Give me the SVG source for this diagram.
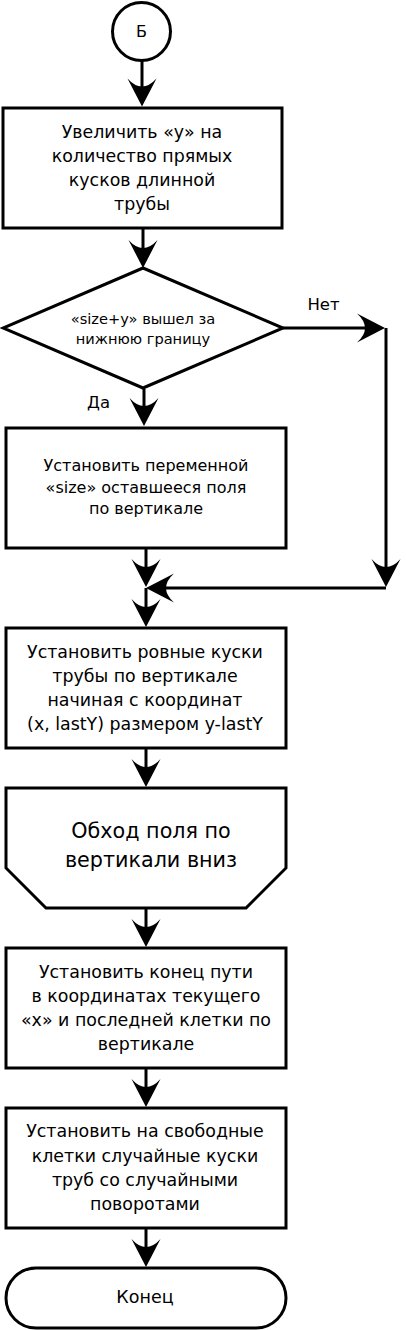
<svg xmlns="http://www.w3.org/2000/svg" width="406" height="1330" viewBox="0 0 406 1330">
<style>
.sh{fill:#fff;stroke:#000;stroke-width:3}
.cn{fill:none;stroke:#000;stroke-width:3;marker-end:url(#ah)}
text{font-family:"DejaVu Sans","Liberation Sans",sans-serif;fill:#000;text-anchor:middle}
.t{font-size:17.4px}
</style>
<defs>
<marker id="ah" markerUnits="userSpaceOnUse" orient="auto" refX="-12" refY="0" markerWidth="40" markerHeight="40" overflow="visible">
<path d="M0,0 L-28,-14.5 Q-12,0 -28,14.5 Z" fill="#000"/>
</marker>
</defs>
<rect width="406" height="1330" fill="#fff"/>
<g id="connectors">
<path class="cn" d="M142,61 V94.5"/>
<path class="cn" d="M143,228 V256"/>
<path class="cn" d="M283,328 H373"/>
<path class="cn" d="M386,328 V575"/>
<path class="cn" d="M386,588 H158"/>
<path class="cn" d="M144,389 V414"/>
<path class="cn" d="M146,548 V575"/>
<path class="cn" d="M146,588 V615"/>
<path class="cn" d="M146,748 V775"/>
<path class="cn" d="M146,908 V935"/>
<path class="cn" d="M146,1068 V1095"/>
<path class="cn" d="M146,1228 V1255"/>
</g>
<g id="start">
<circle class="sh" cx="141.5" cy="31.5" r="29"/>
<text x="141.5" y="37" font-size="16">Б</text>
</g>
<g id="box1">
<rect class="sh" x="3" y="108" width="279" height="120"/>
<text class="t"><tspan x="142" y="138">Увеличить «у» на</tspan><tspan x="142" y="162">количество прямых</tspan><tspan x="142" y="186">кусков длинной</tspan><tspan x="142" y="210">трубы</tspan></text>
</g>
<g id="decision">
<polygon class="sh" points="143,268 283,328 143,388 3,328"/>
<text font-size="14.6"><tspan x="143" y="323.5">«size+y» вышел за</tspan><tspan x="143" y="343.5">нижнюю границу</tspan></text>
</g>
<g id="labels">
<text x="323.5" y="310" font-size="16.5">Нет</text>
<text x="98.5" y="408" font-size="16.5">Да</text>
</g>
<g id="box2">
<rect class="sh" x="6" y="428" width="280" height="120"/>
<text font-size="16"><tspan x="146" y="471">Установить переменной</tspan><tspan x="146" y="492.5">«size» оставшееся поля</tspan><tspan x="146" y="514">по вертикале</tspan></text>
</g>
<g id="box3">
<rect class="sh" x="6" y="628" width="280" height="120"/>
<text class="t"><tspan x="145" y="657.5">Установить ровные куски</tspan><tspan x="145" y="681.5">трубы по вертикале</tspan><tspan x="145" y="705.5">начиная с координат</tspan><tspan x="145" y="729.5">(x, lastY) размером y-lastY</tspan></text>
</g>
<g id="loop">
<polygon class="sh" points="6,788 286,788 286,868 246,908 46,908 6,868"/>
<text font-size="20.7"><tspan x="151" y="838">Обход поля по</tspan><tspan x="151" y="866.5">вертикали вниз</tspan></text>
</g>
<g id="box4">
<rect class="sh" x="6" y="948" width="280" height="120"/>
<text class="t"><tspan x="146" y="977.5">Установить конец пути</tspan><tspan x="146" y="1001.5">в координатах текущего</tspan><tspan x="146" y="1025.5">«х» и последней клетки по</tspan><tspan x="146" y="1049.5">вертикале</tspan></text>
</g>
<g id="box5">
<rect class="sh" x="6" y="1108" width="280" height="120"/>
<text class="t"><tspan x="145" y="1137">Установить на свободные</tspan><tspan x="145" y="1161.5">клетки случайные куски</tspan><tspan x="145" y="1185.5">труб со случайными</tspan><tspan x="145" y="1209.5">поворотами</tspan></text>
</g>
<g id="end">
<rect class="sh" x="6" y="1268" width="280" height="60" rx="30" ry="30"/>
<text x="145" y="1302.5" font-size="17.5">Конец</text>
</g>
</svg>
